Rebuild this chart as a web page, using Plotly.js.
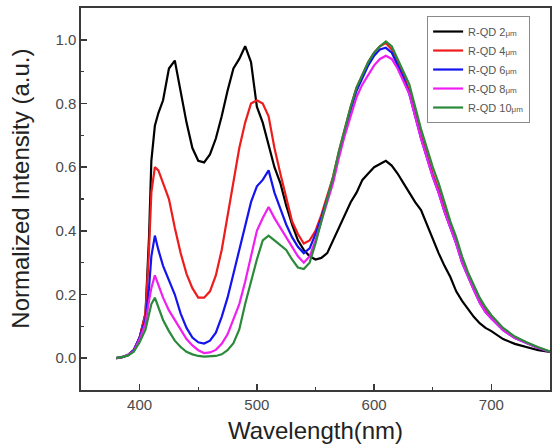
<!DOCTYPE html>
<html>
<head>
<meta charset="utf-8">
<script src="https://cdn.plot.ly/plotly-3.0.1.min.js"></script>
<style>
  html, body { margin: 0; padding: 0; background: #fff; }
  #chart { width: 554px; height: 444px; }
</style>
</head>
<body>
<div id="chart"></div>
<script>
// Emission wavelength grid (nm)
const wavelength = [
  380, 385, 390, 395, 400, 405, 408, 410, 413, 416,
  420, 425, 430, 435, 440, 445, 450, 455, 460, 465,
  470, 475, 480, 485, 490, 495, 500, 505, 510, 515,
  520, 525, 530, 535, 540, 545, 550, 555, 560, 565,
  570, 575, 580, 585, 590, 595, 600, 605, 610, 615,
  620, 625, 630, 635, 640, 645, 650, 655, 660, 665,
  670, 675, 680, 685, 690, 695, 700, 710, 720, 730,
  740, 750
];

// Normalized PL intensity for each R-QD layer thickness
const rqd2um = [
  0, 0.003, 0.01, 0.025, 0.065, 0.14, 0.38, 0.62, 0.73, 0.77,
  0.81, 0.91, 0.935, 0.84, 0.74, 0.66, 0.62, 0.615, 0.64, 0.69,
  0.76, 0.84, 0.91, 0.94, 0.98, 0.93, 0.79, 0.74, 0.67, 0.60,
  0.55, 0.48, 0.42, 0.37, 0.34, 0.32, 0.31, 0.315, 0.33, 0.37,
  0.41, 0.45, 0.49, 0.52, 0.56, 0.58, 0.60, 0.61, 0.62, 0.605,
  0.58, 0.55, 0.52, 0.49, 0.465, 0.42, 0.37, 0.33, 0.29, 0.255,
  0.21, 0.18, 0.155, 0.13, 0.11, 0.095, 0.085, 0.06, 0.045, 0.035,
  0.025, 0.02
];
const rqd4um = [
  0, 0.003, 0.01, 0.025, 0.065, 0.14, 0.34, 0.52, 0.60, 0.59,
  0.55, 0.50, 0.41, 0.33, 0.265, 0.22, 0.19, 0.19, 0.21, 0.26,
  0.34, 0.45, 0.56, 0.66, 0.74, 0.80, 0.81, 0.80, 0.76, 0.66,
  0.58, 0.50, 0.43, 0.39, 0.36, 0.37, 0.40, 0.45, 0.51, 0.57,
  0.65, 0.72, 0.79, 0.85, 0.89, 0.93, 0.96, 0.98, 0.99, 0.97,
  0.93, 0.89, 0.84, 0.77, 0.70, 0.64, 0.58, 0.53, 0.47, 0.42,
  0.37, 0.31, 0.26, 0.22, 0.18, 0.15, 0.13, 0.09, 0.065, 0.048,
  0.033, 0.02
];
const rqd6um = [
  0, 0.003, 0.01, 0.025, 0.065, 0.12, 0.22, 0.32, 0.385, 0.34,
  0.29, 0.245, 0.20, 0.14, 0.095, 0.065, 0.05, 0.046, 0.055, 0.08,
  0.13, 0.19, 0.265, 0.34, 0.42, 0.49, 0.54, 0.56, 0.59, 0.52,
  0.47, 0.42, 0.38, 0.35, 0.33, 0.345, 0.39, 0.44, 0.50, 0.56,
  0.64, 0.71, 0.78, 0.84, 0.88, 0.92, 0.95, 0.97, 0.975, 0.96,
  0.92, 0.88, 0.83, 0.76, 0.69, 0.63, 0.57, 0.52, 0.46, 0.41,
  0.36, 0.30, 0.255, 0.215, 0.175, 0.145, 0.125, 0.088, 0.063, 0.047,
  0.032, 0.02
];
const rqd8um = [
  0, 0.003, 0.01, 0.022, 0.06, 0.11, 0.18, 0.22, 0.26, 0.23,
  0.19, 0.15, 0.12, 0.09, 0.06, 0.04, 0.025, 0.016, 0.018, 0.026,
  0.045, 0.075, 0.12, 0.17, 0.24, 0.32, 0.40, 0.44, 0.475, 0.44,
  0.41, 0.38, 0.35, 0.32, 0.30, 0.32, 0.37, 0.43, 0.49, 0.55,
  0.63, 0.70, 0.76, 0.82, 0.86, 0.89, 0.92, 0.94, 0.95, 0.94,
  0.91, 0.87, 0.83, 0.76, 0.69, 0.63, 0.57, 0.52, 0.46, 0.41,
  0.36, 0.30, 0.255, 0.215, 0.175, 0.145, 0.125, 0.088, 0.063, 0.047,
  0.032, 0.02
];
const rqd10um = [
  0, 0.003, 0.008, 0.02, 0.05, 0.09, 0.14, 0.17, 0.19, 0.16,
  0.12, 0.085, 0.055, 0.035, 0.02, 0.012, 0.007, 0.005, 0.005, 0.007,
  0.012, 0.025, 0.047, 0.09, 0.17, 0.24, 0.31, 0.37, 0.385, 0.37,
  0.355, 0.34, 0.31, 0.285, 0.28, 0.30, 0.36, 0.43, 0.50, 0.57,
  0.65, 0.72, 0.79, 0.85, 0.89, 0.93, 0.96, 0.98, 0.995, 0.98,
  0.94, 0.90, 0.86, 0.79, 0.72, 0.66, 0.60, 0.55, 0.49, 0.43,
  0.38, 0.32, 0.27, 0.23, 0.19, 0.16, 0.135, 0.095, 0.068, 0.05,
  0.034, 0.021
];

const seriesNames = ['R-QD 2', 'R-QD 4', 'R-QD 6', 'R-QD 8', 'R-QD 10'];
const seriesValues = [rqd2um, rqd4um, rqd6um, rqd8um, rqd10um];
const seriesColors = ['#000000', '#ee1c1c', '#1414f0', '#f01ef0', '#2a8a3a'];

const unitTag = '<span style="font-size:8px">\u03bcm</span>';
const fontFamily = 'Liberation Sans, Arial, sans-serif';

const traces = seriesValues.map((vals, i) => ({
  x: wavelength,
  y: vals,
  type: 'scatter',
  mode: 'lines',
  name: seriesNames[i] + unitTag,
  line: { color: seriesColors[i], width: 2.2 }
}));

const axisCommon = {
  showline: true,
  linecolor: '#3a3a3a',
  linewidth: 1.6,
  mirror: true,
  ticks: 'inside',
  ticklen: 6,
  tickwidth: 1.4,
  tickcolor: '#3a3a3a',
  showgrid: false,
  zeroline: false,
  tickfont: { family: fontFamily, size: 15, color: '#4a4a4a' }
};

const layout = {
  width: 554,
  height: 444,
  margin: { l: 81, r: 4, t: 8, b: 54 },
  paper_bgcolor: '#ffffff',
  plot_bgcolor: '#ffffff',
  font: { family: fontFamily, color: '#222' },
  showlegend: true,
  legend: {
    x: 0.738, y: 0.979, xanchor: 'left', yanchor: 'top',
    bgcolor: '#ffffff',
    bordercolor: '#8a8a8a',
    borderwidth: 1,
    itemwidth: 30,
    font: { family: fontFamily, size: 11, color: '#555' }
  },
  xaxis: Object.assign({}, axisCommon, {
    range: [350, 750],
    dtick: 100,
    tick0: 400,
    minor: { dtick: 50, ticklen: 3, tickcolor: '#3a3a3a', ticks: 'inside', tickwidth: 1.2 },
    title: { text: 'Wavelength(nm)', standoff: 18,
             font: { family: fontFamily, size: 24, color: '#222' } }
  }),
  yaxis: Object.assign({}, axisCommon, {
    range: [-0.1, 1.1],
    dtick: 0.2,
    tick0: 0,
    tickformat: '.1f',
    minor: { dtick: 0.1, ticklen: 3, tickcolor: '#3a3a3a', ticks: 'inside', tickwidth: 1.2 }
  }),
  // Vertical axis label, set a little above the plot's mid-height
  annotations: [{
    text: 'Normalized Intensity (a.u.)',
    xref: 'paper', yref: 'paper',
    x: -0.128, y: 0.527,
    xanchor: 'center', yanchor: 'middle',
    textangle: -90,
    showarrow: false,
    font: { family: fontFamily, size: 24, color: '#222' }
  }]
};

Plotly.newPlot('chart', traces, layout, { staticPlot: true, displayModeBar: false });
</script>
</body>
</html>
